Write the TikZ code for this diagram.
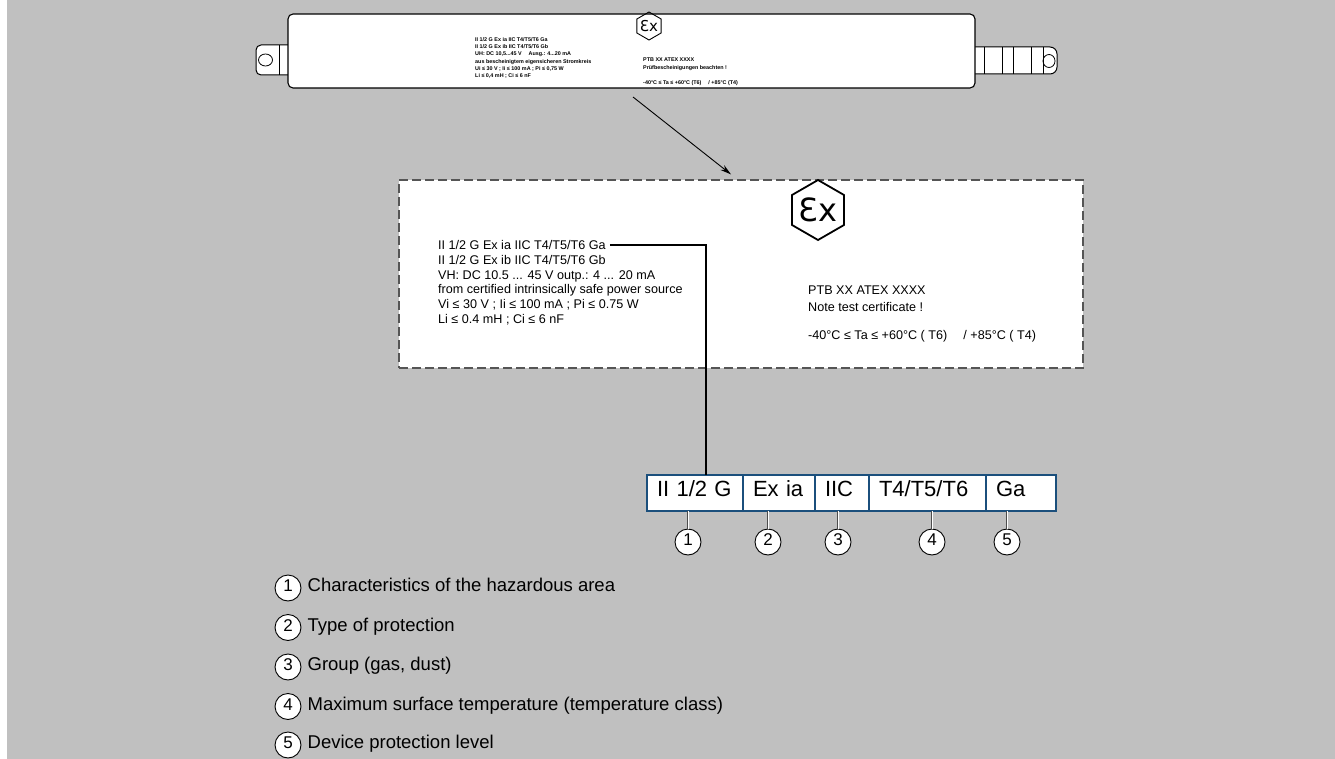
\documentclass[tikz,border=0pt]{standalone}
\usepackage{fontspec}
\setmainfont{Liberation Sans}
\newfontfamily\exfont{DejaVu Sans}
\usetikzlibrary{shapes.geometric, arrows, arrows.meta, calc, positioning}
\definecolor{panelgray}{HTML}{C0C0C0}
\definecolor{frameblue}{HTML}{1B4F7C}
\definecolor{dashgray}{HTML}{555555}

\begin{document}
\begin{tikzpicture}[x=1pt, y=-1pt]
    \tikzstyle{tagbox} = [rectangle, rounded corners=5pt, draw=black, line width=1.1pt, fill=white, minimum width=687, minimum height=74]
    \tikzstyle{tagtext} = [font=\fontsize{5.4}{7.3}\selectfont\bfseries, align=left, inner sep=0pt]
    \tikzstyle{platebox} = [rectangle, draw=dashgray, line width=1.2pt, dash pattern=on 9pt off 4pt, fill=white, minimum width=684, minimum height=188]
    \tikzstyle{platetext} = [font=\fontsize{12.6}{14.7}\selectfont, inner sep=0pt]
    \tikzstyle{exsign} = [regular polygon, regular polygon sides=6, shape border rotate=30, draw=black, inner sep=0pt]
    \tikzstyle{field} = [rectangle, draw=frameblue, line width=2.4pt, fill=white, outer sep=0pt, inner xsep=10pt, inner ysep=0pt, minimum height=36, text height=0.72em, text depth=0pt, align=left, font=\fontsize{22}{22}\selectfont]
    \tikzstyle{callout} = [circle, draw=black, line width=0.9pt, fill=white, minimum size=26, inner sep=0pt, text height=0.72em, text depth=0pt, font=\fontsize{17}{17}\selectfont]
    \tikzstyle{legendtext} = [inner sep=0pt, text height=0.72em, text depth=0pt, font=\fontsize{18.5}{18.5}\selectfont]
    \tikzstyle{pointer} = [line width=0.9pt, ->, >={Stealth[length=11pt, width=6pt]}]
    \tikzstyle{wire} = [line width=1.4pt]
    \tikzstyle{leader} = [draw=black!70, line width=0.6pt, double=white, double distance=0.8pt]
    % Background
    \useasboundingbox (0,0) rectangle (1335,759);
    \fill[white] (0,0) rectangle (1335,759);
    \fill[panelgray] (7,0) rectangle (1335,759);
    % Lugs of the device label
    \draw[fill=white, line width=1pt, rounded corners=5pt] (290,45) -- (256,45) -- (256,75) -- (290,75);
    \draw[line width=0.8pt] (279,45) -- (279,75);
    \draw[line width=0.8pt] (265.5,60) ellipse (7 and 6);
    \draw[fill=white, line width=1pt, rounded corners=7pt] (973,47) -- (1057,47) -- (1057,74) -- (973,74);
    \draw[line width=0.8pt] (984,47) -- (984,74);
    \draw[line width=0.8pt] (1002,47) -- (1002,74);
    \draw[line width=0.8pt] (1013,47) -- (1013,74);
    \draw[line width=0.8pt] (1031,47) -- (1031,74);
    \draw[line width=0.8pt] (1043,47) -- (1043,74);
    \draw[line width=0.8pt] (1049,61) ellipse (6 and 6.5);
    % Nodes
    \node (tag) [tagbox] at (631.5,51) {};
    \node (tagex) [exsign, minimum size=28, line width=0.9pt] at (649,26) {};
    \node (tagexlbl) [font=\exfont\fontsize{15}{15}\selectfont, inner sep=0pt] at (tagex) {Ɛx};
    \node (tagmarks) [tagtext, anchor=north west] at (475,37) {II 1/2 G Ex ia IIC T4/T5/T6 Ga\\ II 1/2 G Ex ib IIC T4/T5/T6 Gb\\ UH: DC 10,5...45 V \quad Ausg.: 4...20 mA\\ aus bescheinigtem eigensicheren Stromkreis\\ Ui ≤ 30 V ; Ii ≤ 100 mA ; Pi ≤ 0,75 W\\ Li ≤ 0,4 mH ; Ci ≤ 6 nF};
    \node (tagcert) [tagtext, anchor=north west] at (643,58) {PTB XX ATEX XXXX\\ Prüfbescheinigungen beachten !};
    \node (tagtemp) [tagtext, anchor=north west] at (643,80) {-40°C ≤ Ta ≤ +60°C (T6) \quad / +85°C (T4)};
    \node (plate) [platebox] at (741,274) {};
    \node (plateex) [exsign, minimum size=60, line width=1.8pt] at (818,210) {};
    \node (plateexlbl) [font=\exfont\fontsize{32}{32}\selectfont, inner sep=0pt] at (plateex) {Ɛx};
    \node (markga) [platetext, anchor=base west, inner xsep=4pt] at (434,249.5) {II 1/2 G Ex ia IIC T4/T5/T6 Ga};
    \node (markrest) [platetext, anchor=north west, align=left] at (438,255) {II 1/2 G Ex ib IIC T4/T5/T6 Gb\\ VH: DC 10.5 ... 45 V outp.: 4 ... 20 mA\\ from certified intrinsically safe power source\\ Vi ≤ 30 V ; Ii ≤ 100 mA ; Pi ≤ 0.75 W\\ Li ≤ 0.4 mH ; Ci ≤ 6 nF};
    \node (platecert) [platetext, anchor=base west] at (808,294.5) {PTB XX ATEX XXXX};
    \node (platenote) [platetext, anchor=base west] at (808,311.5) {Note test certificate !};
    \node (platetemp) [platetext, anchor=base west] at (808,339.5) {-40°C ≤ Ta ≤ +60°C ( T6) \quad / +85°C ( T4)};
    % Marking split into fields
    \node (zone) [field, text width=76, anchor=north west] at (647,475) {II 1/2 G};
    \node (prot) [field, text width=52, right=0pt of zone] {Ex ia};
    \node (grp) [field, text width=34, right=0pt of prot] {IIC};
    \node (tclass) [field, text width=97, right=0pt of grp] {T4/T5/T6};
    \node (epl) [field, text width=50, right=0pt of tclass] {Ga};
    \node (n1) [callout] at (688,542) {1};
    \node (n2) [callout] at (768,542) {2};
    \node (n3) [callout] at (838,542) {3};
    \node (n4) [callout] at (932,542) {4};
    \node (n5) [callout] at (1007,542) {5};
    % Legend
    \node (k1) [callout] at (288,588) {1};
    \node (k2) [callout] at (288,627.5) {2};
    \node (k3) [callout] at (288,667) {3};
    \node (k4) [callout] at (288,706.5) {4};
    \node (k5) [callout] at (288,745) {5};
    \node (t1) [legendtext, right=6pt of k1] {Characteristics of the hazardous area};
    \node (t2) [legendtext, right=6pt of k2] {Type of protection};
    \node (t3) [legendtext, right=6pt of k3] {Group (gas, dust)};
    \node (t4) [legendtext, right=6pt of k4] {Maximum surface temperature (temperature class)};
    \node (t5) [legendtext, right=6pt of k5] {Device protection level};
    % Arrows
    \coordinate (tagpoint) at (633,97);
    \draw [pointer] (tagpoint) -- ([xshift=-10pt,yshift=5pt]plate.north);
    \coordinate (gadrop) at (706,0);
    \draw [wire] (markga.east) -- (markga.east -| gadrop) -- (gadrop |- zone.north);
    \draw [leader] (n1) -- (n1 |- zone.south);
    \draw [leader] (n2) -- (n2 |- prot.south);
    \draw [leader] (n3) -- (n3 |- grp.south);
    \draw [leader] (n4) -- (n4 |- tclass.south);
    \draw [leader] (n5) -- (n5 |- epl.south);
\end{tikzpicture}
\end{document}
